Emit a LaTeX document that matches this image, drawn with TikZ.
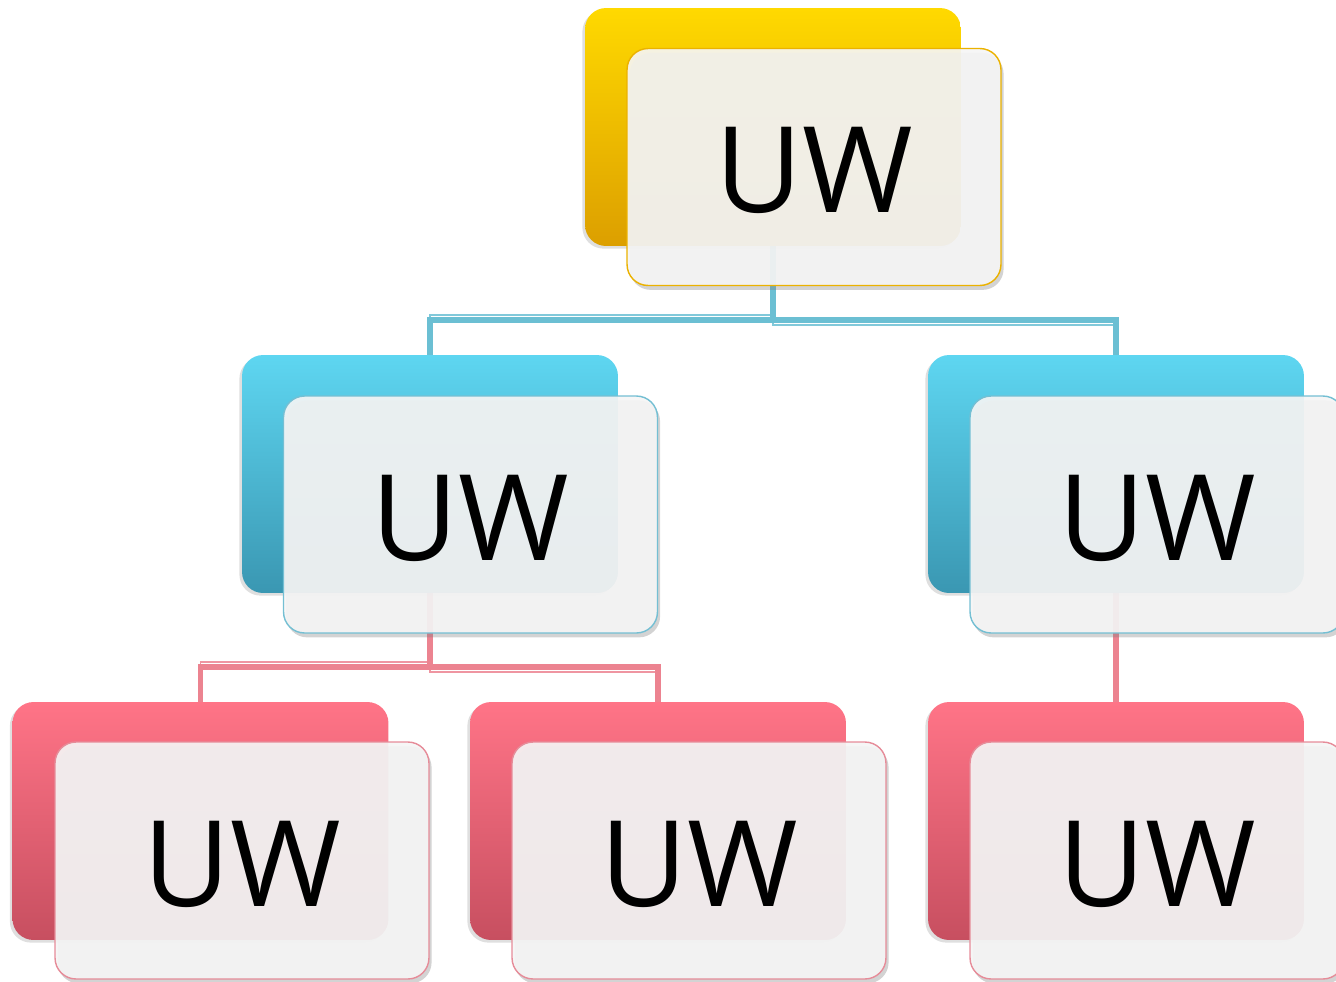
\documentclass[tikz,border=0pt]{standalone}
\usepackage{fontspec}
\setmainfont{Open Sans}
\usetikzlibrary{shadows, backgrounds, positioning}

\definecolor{goldtop}{HTML}{FFD900}
\definecolor{goldmid}{HTML}{FFB600}
\definecolor{goldbot}{HTML}{DC9F00}
\definecolor{goldline}{HTML}{EBB200}
\definecolor{bluetop}{HTML}{5ED6F1}
\definecolor{bluemid}{HTML}{4BB5D2}
\definecolor{bluebot}{HTML}{3A97B2}
\definecolor{blueline}{HTML}{74BFD3}
\definecolor{bluelink}{HTML}{6BBFD3}
\definecolor{pinktop}{HTML}{FF7487}
\definecolor{pinkmid}{HTML}{EE6174}
\definecolor{pinkbot}{HTML}{C74F60}
\definecolor{pinkline}{HTML}{E68C99}
\definecolor{pinklink}{HTML}{EC8390}
\definecolor{cardgray}{HTML}{F5F5F5}

\begin{document}
\begin{tikzpicture}[x=0.02cm, y=-0.02cm]
\tikzstyle{card_back}=[rectangle, rounded corners=0.42cm, minimum width=7.52cm, minimum height=4.76cm, drop shadow={opacity=0.25, shadow xshift=-1.5pt, shadow yshift=-1.5pt}];
\tikzstyle{back_gold}=[card_back, top color=goldtop, middle color=goldmid, bottom color=goldbot];
\tikzstyle{back_blue}=[card_back, top color=bluetop, middle color=bluemid, bottom color=bluebot];
\tikzstyle{back_pink}=[card_back, top color=pinktop, middle color=pinkmid, bottom color=pinkbot];
\tikzstyle{card_front}=[rectangle, rounded corners=0.42cm, minimum width=7.48cm, minimum height=4.74cm, fill=cardgray, fill opacity=0.92, text opacity=1, line width=0.8pt, font=\fontsize{68}{72}\selectfont, text height=53pt, drop shadow={opacity=0.35, shadow xshift=1.5pt, shadow yshift=-2.5pt}];
\tikzstyle{front_gold}=[card_front, draw=goldline];
\tikzstyle{front_blue}=[card_front, draw=blueline];
\tikzstyle{front_pink}=[card_front, draw=pinkline];
\tikzstyle{link_blue}=[draw=bluelink, line width=3.4pt];
\tikzstyle{thin_blue}=[draw=bluelink, line width=1.1pt, opacity=0.85];
\tikzstyle{link_pink}=[draw=pinklink, line width=3.4pt];
\tikzstyle{thin_pink}=[draw=pinklink, line width=1.1pt, opacity=0.85];

\useasboundingbox (0,0) rectangle (1336,981);

\node [back_gold] at (773,127) (Root) {};
\node [front_gold] at (814,167) (Root Card) {UW};
\node [back_blue] at (430,474) (Left) {};
\node [front_blue] at (470.5,514.5) (Left Card) {UW};
\node [back_blue] at (1116,474) (Right) {};
\node [front_blue] at (1157,514.5) (Right Card) {UW};
\node [back_pink] at (200.5,821) (Leaf A) {};
\node [front_pink] at (242,860.5) (Leaf A Card) {UW};
\node [back_pink] at (658,821) (Leaf B) {};
\node [front_pink] at (699,860.5) (Leaf B Card) {UW};
\node [back_pink] at (1116,821) (Leaf C) {};
\node [front_pink] at (1157,860.5) (Leaf C Card) {UW};

% connectors behind the cards
\begin{scope}[on background layer]
\draw[link_blue] (Root.south) -- (Root.south |- 0,320) -| (Left.north);
\draw[link_blue] (Root.south) -- (Root.south |- 0,320) -| (Right.north);
\draw[thin_blue, xshift=-2.8pt, yshift=2.8pt] (Root.south) -- (Root.south |- 0,320) -| (Left.north);
\draw[thin_blue, xshift=-2.8pt, yshift=-2.8pt] (Root.south) -- (Root.south |- 0,320) -| (Right.north);

\draw[link_pink] (Left.south) -- (Left.south |- 0,667) -| (Leaf A.north);
\draw[link_pink] (Left.south) -- (Left.south |- 0,667) -| (Leaf B.north);
\draw[thin_pink, xshift=-2.8pt, yshift=2.8pt] (Left.south) -- (Left.south |- 0,667) -| (Leaf A.north);
\draw[thin_pink, xshift=-2.8pt, yshift=-2.8pt] (Left.south) -- (Left.south |- 0,667) -| (Leaf B.north);

\draw[link_pink] (Right.south) -- (Leaf C.north);
\draw[thin_pink, xshift=-2.8pt] (Right.south) -- (Leaf C.north);
\end{scope}

\end{tikzpicture}
\end{document}
